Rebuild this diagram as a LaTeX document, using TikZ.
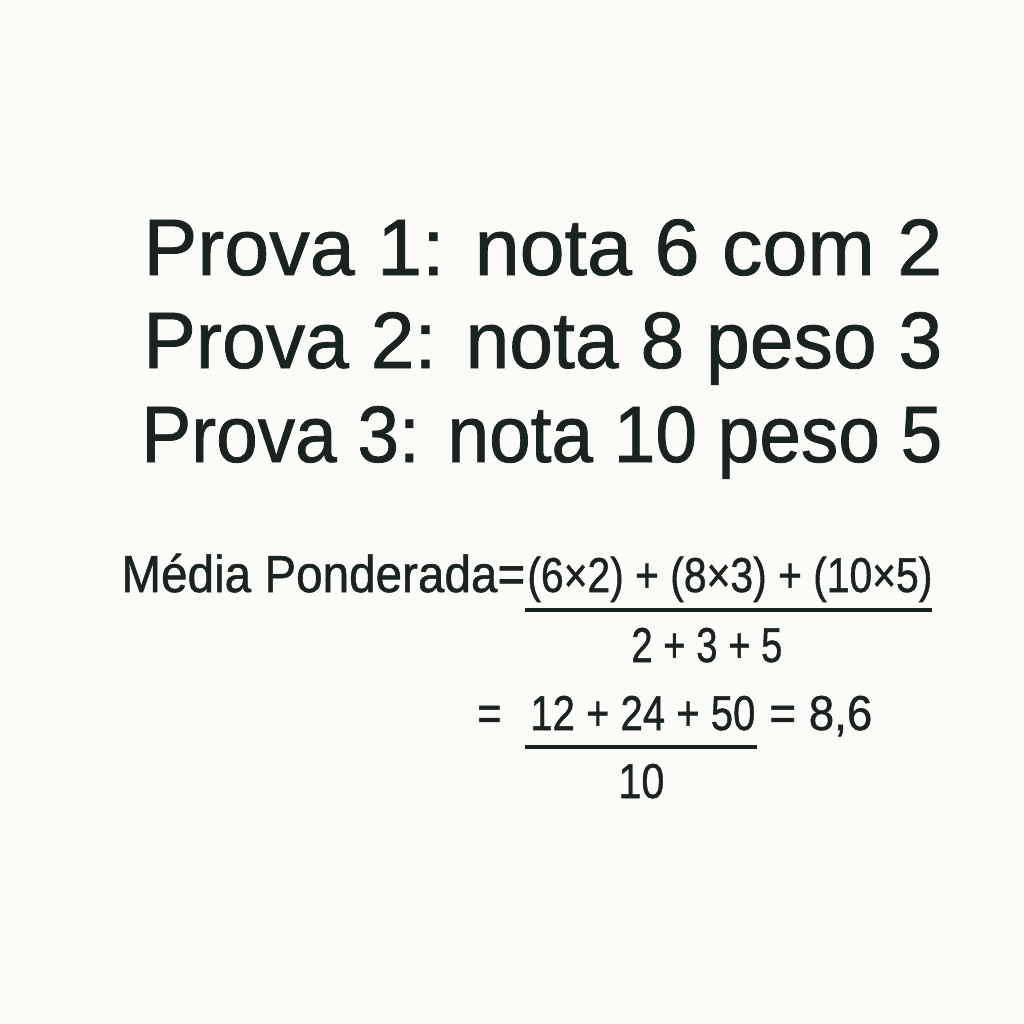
\documentclass[tikz,border=0pt]{standalone}
\usepackage{fontspec}
\usepackage{graphicx}
\setmainfont{Liberation Sans}[FakeBold=1]
\usepackage{tikz}
\usetikzlibrary{positioning}

\definecolor{ink}{HTML}{1A2321}
\definecolor{paper}{HTML}{FBFBF8}

% stretch a text to a given width, keeping its height
\newcommand{\fitw}[2]{\resizebox{#1}{\height}{#2}}

\tikzset{
    heading/.style={anchor=base west, inner sep=0pt, text=ink, font=\fontsize{40}{48}\selectfont},
    formula/.style={anchor=base west, inner sep=0pt, text=ink, font=\fontsize{26}{30}\selectfont},
    digits/.style={anchor=base west, inner sep=0pt, text=ink, font=\fontsize{24.5}{28}\selectfont},
    bar/.style={draw=ink, line width=1.7pt}
}

\begin{document}
\begin{tikzpicture}[x=0.5pt, y=-0.5pt]
                \fill[paper] (0,0) rectangle (1024,1024);
                \node[heading] (p1) at (143,275) {\fitw{399.5pt}{Prova 1: nota 6 com 2}};
                \node[heading] (p2) at (143,368) {\fitw{399.5pt}{Prova 2: nota 8 peso 3}};
                \node[heading] (p3) at (141,462) {\fitw{400.5pt}{Prova 3: nota 10 peso 5}};
                \node[formula] (media) at (121,592) {\fitw{202pt}{Média Ponderada=}};
                \node[digits] (num) at (527,592) {\fitw{202.5pt}{(6×2) + (8×3) + (10×5)}};
                \node[digits] (den) at (631,662) {\fitw{75.5pt}{2 + 3 + 5}};
                \node[digits] (eq) at (477,730) {\fitw{12pt}{=}};
                \node[digits] (sum) at (530,730) {\fitw{112.5pt}{12 + 24 + 50}};
                \node[digits] (res) at (769,730) {\fitw{51.5pt}{= 8,6}};
                \node[digits] (tot) at (618,798) {\fitw{23pt}{10}};
                \draw[bar] (525,610) -- (932,610);
                \draw[bar] (525,747) -- (757,747);
            \end{tikzpicture}
\end{document}
